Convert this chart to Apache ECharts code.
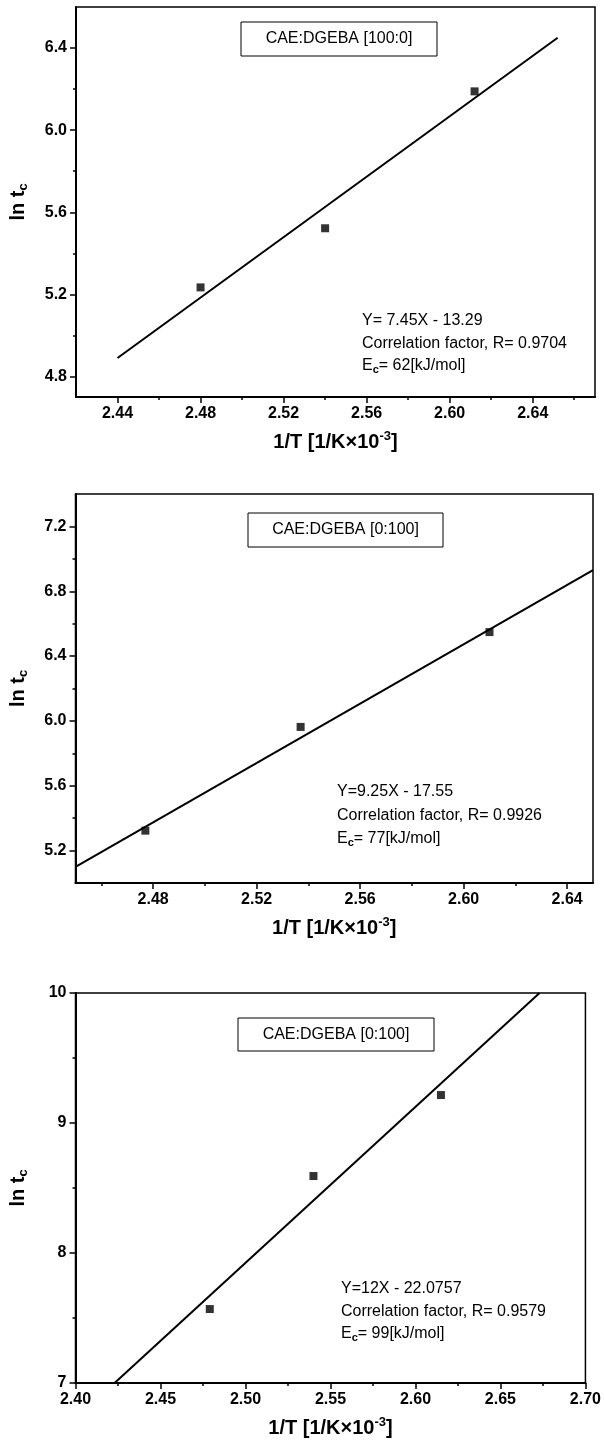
<!DOCTYPE html>
<html><head><meta charset="utf-8">
<script src="https://cdn.jsdelivr.net/npm/echarts@6/dist/echarts.min.js"></script>
<style>html,body{margin:0;padding:0;background:#fff}#c{width:604px;height:1448px}</style>
</head><body><div id="c"></div>
<script>
// ---------- Panel 1: CAE:DGEBA [100:0]
const p1Points = [[2.480, 5.234], [2.540, 5.522], [2.612, 6.189]];
const p1FitLine = [[2.440, 4.89], [2.652, 6.45]];
const p1XTicks = [2.44, 2.48, 2.52, 2.56, 2.60, 2.64];
const p1XMinor = [2.46, 2.50, 2.54, 2.58, 2.62, 2.66];
const p1YTicks = [4.8, 5.2, 5.6, 6.0, 6.4];
const p1YMinor = [5.0, 5.4, 5.8, 6.2];
const p1Range = { xMin: 2.42, xMax: 2.67, yMin: 4.7, yMax: 6.6 };
const p1Label = 'CAE:DGEBA [100:0]';
const p1Eq = ['Y= 7.45X - 13.29', 'Correlation factor, R= 0.9704', '62[kJ/mol]'];

// ---------- Panel 2: CAE:DGEBA [0:100]
const p2Points = [[2.477, 5.323], [2.537, 5.963], [2.610, 6.548]];
const p2FitLine = [[2.450, 5.10], [2.650, 6.93]];
const p2XTicks = [2.48, 2.52, 2.56, 2.60, 2.64];
const p2XMinor = [2.46, 2.50, 2.54, 2.58, 2.62];
const p2YTicks = [5.2, 5.6, 6.0, 6.4, 6.8, 7.2];
const p2YMinor = [5.4, 5.8, 6.2, 6.6, 7.0];
const p2Range = { xMin: 2.45, xMax: 2.65, yMin: 5.0, yMax: 7.4 };
const p2Label = 'CAE:DGEBA [0:100]';
const p2Eq = ['Y=9.25X - 17.55', 'Correlation factor, R= 0.9926', '77[kJ/mol]'];

// ---------- Panel 3: CAE:DGEBA [0:100]
const p3Points = [[2.479, 7.569], [2.540, 8.592], [2.615, 9.215]];
const p3FitLine = [[2.423, 7.0], [2.673, 10.0]];
const p3XTicks = [2.40, 2.45, 2.50, 2.55, 2.60, 2.65, 2.70];
const p3XMinor = [2.425, 2.475, 2.525, 2.575, 2.625, 2.675];
const p3YTicks = [7, 8, 9, 10];
const p3YMinor = [7.5, 8.5, 9.5];
const p3Range = { xMin: 2.40, xMax: 2.70, yMin: 7, yMax: 10 };
const p3Label = 'CAE:DGEBA [0:100]';
const p3Eq = ['Y=12X - 22.0757', 'Correlation factor, R= 0.9579', '99[kJ/mol]'];

const FONT = '"Liberation Sans", Arial, Helvetica, sans-serif';

const layouts = [
  { grid: { left: 76, top: 7, width: 519, height: 390 }, xDec: 2, yDec: 1,
    box: [241, 22, 196, 34], eqX: 362, eqY: [321, 344, 366], xGap: 33, yGap: 46 },
  { grid: { left: 74, top: 494, width: 519, height: 389 }, xDec: 2, yDec: 1,
    box: [248, 513, 195, 34], eqX: 337, eqY: [792, 816, 839], xGap: 33, yGap: 46 },
  { grid: { left: 70, top: 993, width: 519, height: 390 }, xDec: 2, yDec: 0,
    box: [238, 1018, 196, 33], eqX: 341, eqY: [1289, 1312, 1334], xGap: 33, yGap: 46 }
];

const panels = [
  { pts: p1Points, fit: p1FitLine, xt: p1XTicks, xm: p1XMinor, yt: p1YTicks, ym: p1YMinor, r: p1Range, label: p1Label, eq: p1Eq },
  { pts: p2Points, fit: p2FitLine, xt: p2XTicks, xm: p2XMinor, yt: p2YTicks, ym: p2YMinor, r: p2Range, label: p2Label, eq: p2Eq },
  { pts: p3Points, fit: p3FitLine, xt: p3XTicks, xm: p3XMinor, yt: p3YTicks, ym: p3YMinor, r: p3Range, label: p3Label, eq: p3Eq }
];

const grids = [], xAxes = [], yAxes = [], series = [], graphics = [];
const tickLabelStyle = { color: '#000', fontFamily: FONT, fontWeight: 'bold', fontSize: 16 };

panels.forEach((p, i) => {
  const L = layouts[i];
  grids.push(Object.assign({ show: true, borderColor: '#000', borderWidth: 1.5, backgroundColor: '#fff' }, L.grid));
  xAxes.push({
    type: 'value', gridIndex: i, min: p.r.xMin, max: p.r.xMax, position: 'bottom',
    axisLine: { show: true, onZero: false, lineStyle: { color: '#000', width: 2 } },
    axisTick: { show: true, length: 6, customValues: p.xt, lineStyle: { color: '#000', width: 1.5 } },
    axisLabel: Object.assign({ customValues: p.xt, margin: 9, formatter: v => Number(v).toFixed(L.xDec) }, tickLabelStyle),
    splitLine: { show: false },
    name: '1/T [1/K×10{sup|-3}]', nameLocation: 'middle', nameGap: L.xGap,
    nameTextStyle: {
      color: '#000', fontFamily: FONT, fontWeight: 'bold', fontSize: 20,
      rich: { sup: { color: '#000', fontFamily: FONT, fontWeight: 'bold', fontSize: 13, padding: [0, 0, 11, 0] } }
    }
  });
  xAxes.push({
    type: 'value', gridIndex: i, min: p.r.xMin, max: p.r.xMax, position: 'bottom',
    axisLine: { show: false }, axisLabel: { show: false }, splitLine: { show: false },
    axisTick: { show: true, length: 3, customValues: p.xm, lineStyle: { color: '#000', width: 1.5 } }
  });
  yAxes.push({
    type: 'value', gridIndex: i, min: p.r.yMin, max: p.r.yMax, position: 'left',
    axisLine: { show: true, onZero: false, lineStyle: { color: '#000', width: 2 } },
    axisTick: { show: true, length: 6, customValues: p.yt, lineStyle: { color: '#000', width: 1.5 } },
    axisLabel: Object.assign({ customValues: p.yt, margin: 9, formatter: v => Number(v).toFixed(L.yDec) }, tickLabelStyle),
    splitLine: { show: false },
    name: 'ln t{sub|c}', nameLocation: 'middle', nameGap: L.yGap, nameRotate: 90,
    nameTextStyle: {
      color: '#000', fontFamily: FONT, fontWeight: 'bold', fontSize: 20,
      rich: { sub: { color: '#000', fontFamily: FONT, fontWeight: 'bold', fontSize: 13, padding: [10, 0, 0, 0] } }
    }
  });
  yAxes.push({
    type: 'value', gridIndex: i, min: p.r.yMin, max: p.r.yMax, position: 'left',
    axisLine: { show: false }, axisLabel: { show: false }, splitLine: { show: false },
    axisTick: { show: true, length: 3, customValues: p.ym, lineStyle: { color: '#000', width: 1.5 } }
  });
  series.push({
    type: 'line', xAxisIndex: 2 * i, yAxisIndex: 2 * i, data: p.fit, symbol: 'none',
    lineStyle: { color: '#000', width: 2 }, silent: true, z: 3
  });
  series.push({
    type: 'scatter', xAxisIndex: 2 * i, yAxisIndex: 2 * i, data: p.pts, symbol: 'rect', symbolSize: 8,
    itemStyle: { color: '#000' }, z: 4
  });
  const [bx, by, bw, bh] = L.box;
  graphics.push({ type: 'rect', shape: { x: bx, y: by, width: bw, height: bh },
    style: { fill: '#fff', stroke: '#000', lineWidth: 1 }, z: 10 });
  graphics.push({ type: 'text', x: bx + bw / 2, y: by + bh / 2, z: 11,
    style: { text: p.label, fill: '#000', font: '16px ' + FONT, align: 'center', verticalAlign: 'middle' } });
  graphics.push({ type: 'text', x: L.eqX, y: L.eqY[0], z: 11,
    style: { text: p.eq[0], fill: '#000', font: '16px ' + FONT, align: 'left', verticalAlign: 'middle' } });
  graphics.push({ type: 'text', x: L.eqX, y: L.eqY[1], z: 11,
    style: { text: p.eq[1], fill: '#000', font: '16px ' + FONT, align: 'left', verticalAlign: 'middle' } });
  graphics.push({ type: 'text', x: L.eqX, y: L.eqY[2], z: 11,
    style: { text: '{n|E}{s|c}{n|= ' + p.eq[2] + '}', fill: '#000', font: '16px ' + FONT, align: 'left', verticalAlign: 'middle',
      rich: { n: { fontSize: 16, fontFamily: FONT, fill: '#000' },
              s: { fontSize: 11, fontFamily: FONT, fontWeight: 'bold', fill: '#000', padding: [8, 0, 0, 0] } } } });
});

const chart = echarts.init(document.getElementById('c'), null, { renderer: 'canvas' });
chart.setOption({
  backgroundColor: '#fff',
  animation: false,
  grid: grids, xAxis: xAxes, yAxis: yAxes, series: series, graphic: graphics
});
</script></body></html>
